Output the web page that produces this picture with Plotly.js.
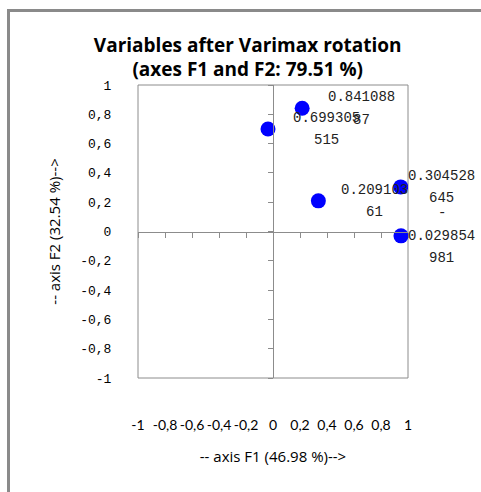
<!DOCTYPE html>
<html>
<head>
<meta charset="utf-8">
<script src="https://cdn.plot.ly/plotly-3.0.1.min.js"></script>
<style>
  html, body { margin: 0; padding: 0; background: #fff; }
  #wrap { position: relative; width: 481px; height: 492px; overflow: hidden; }
  #chart { position: absolute; left: 0; top: 0; width: 481px; height: 492px; }
  #frame { position: absolute; left: 7px; top: 9px; width: 600px; height: 600px;
           border-left: 3px solid #8a8a8a; border-top: 3px solid #8a8a8a; pointer-events: none; }
</style>
</head>
<body>
<div id="wrap"><div id="chart"></div><div id="frame"></div></div>
<script>
// ---- data ----
const xValues = [0.216, -0.037, 0.336, 0.946, 0.948];
const yValues = [0.84108887, 0.699305515, 0.20910361, 0.304528645, -0.029854981];
const pointLabels = [
  ["0.841088", "87"],
  ["0.699305", "515"],
  ["0.209103", "61"],
  ["0.304528", "645"],
  ["-", "0.029854", "981"]
];
const tickValues = [-1, -0.8, -0.6, -0.4, -0.2, 0, 0.2, 0.4, 0.6, 0.8, 1];
const xTickLabels = ["-1", "-0,8", "-0,6", "-0,4", "-0,2", "0", "0,2", "0,4", "0,6", "0,8", "1"];
const yTickLabels = ["-1", "-0,8", "-0,6", "-0,4", "-0,2", "0", "0,2", "0,4", "0,6", "0,8", "1"];
const chartTitle = "Variables after Varimax rotation<br>(axes F1 and F2: 79.51 %)";
const xTitle = "-- axis F1 (46.98 %)-->";
const yTitle = "-- axis F2 (32.54 %)-->";

// ---- styling / layout ----
const labelXShift = [59, 58, 56, 41, 41];
const lineGap = 22.5;
const gray = "#8c8c8c";

const annotations = [];
pointLabels.forEach((lines, i) => {
  const n = lines.length;
  lines.forEach((t, j) => {
    annotations.push({
      x: xValues[i], y: yValues[i], xref: "x", yref: "y",
      text: t, showarrow: false, xanchor: "center", yanchor: "middle",
      xshift: labelXShift[i], yshift: ((n - 1) / 2 - j) * lineGap,
      font: { family: "Liberation Mono, monospace", size: 14, color: "#222" }
    });
  });
});

const trace = {
  x: xValues, y: yValues, type: "scatter", mode: "markers",
  marker: { color: "#0000ff", size: 15 },
  hoverinfo: "x+y", showlegend: false
};

const layout = {
  width: 481, height: 492,
  margin: { l: 138, r: 73, t: 85, b: 114 },
  paper_bgcolor: "#ffffff", plot_bgcolor: "#ffffff",
  showlegend: false,
  title: {
    text: chartTitle, x: 0.515, xanchor: "center", y: 0.895, yanchor: "middle",
    font: { family: "Open Sans, sans-serif", size: 19, color: "#000", weight: "bold" }
  },
  xaxis: {
    range: [-1, 1], anchor: "free", position: 0.5,
    tickvals: tickValues, ticktext: xTickLabels,
    ticks: "outside", ticklen: 5, tickcolor: gray,
    showline: true, linecolor: gray, linewidth: 1,
    showgrid: false, zeroline: false,
    ticklabelstandoff: 176,
    tickfont: { family: "Lato, sans-serif", size: 14, color: "#000" },
    title: { text: xTitle, standoff: 19, font: { family: "Open Sans, sans-serif", size: 15, color: "#000" } },
    fixedrange: true
  },
  yaxis: {
    range: [-1, 1], anchor: "free", position: 0.5,
    tickvals: tickValues, ticktext: yTickLabels,
    ticks: "outside", ticklen: 5, tickcolor: gray,
    showline: true, linecolor: gray, linewidth: 1,
    showgrid: false, zeroline: false,
    ticklabelstandoff: 154,
    tickfont: { family: "Liberation Mono, monospace", size: 13, color: "#000" },
    title: { text: yTitle, standoff: 14, font: { family: "Open Sans, sans-serif", size: 15, color: "#000" } },
    fixedrange: true
  },
  shapes: [{
    type: "rect", xref: "paper", yref: "paper", x0: 0, x1: 1, y0: 0, y1: 1,
    line: { color: gray, width: 1 }, layer: "below"
  }],
  annotations: annotations
};

Plotly.newPlot("chart", [trace], layout, { displayModeBar: false, staticPlot: true });
</script>
</body>
</html>
